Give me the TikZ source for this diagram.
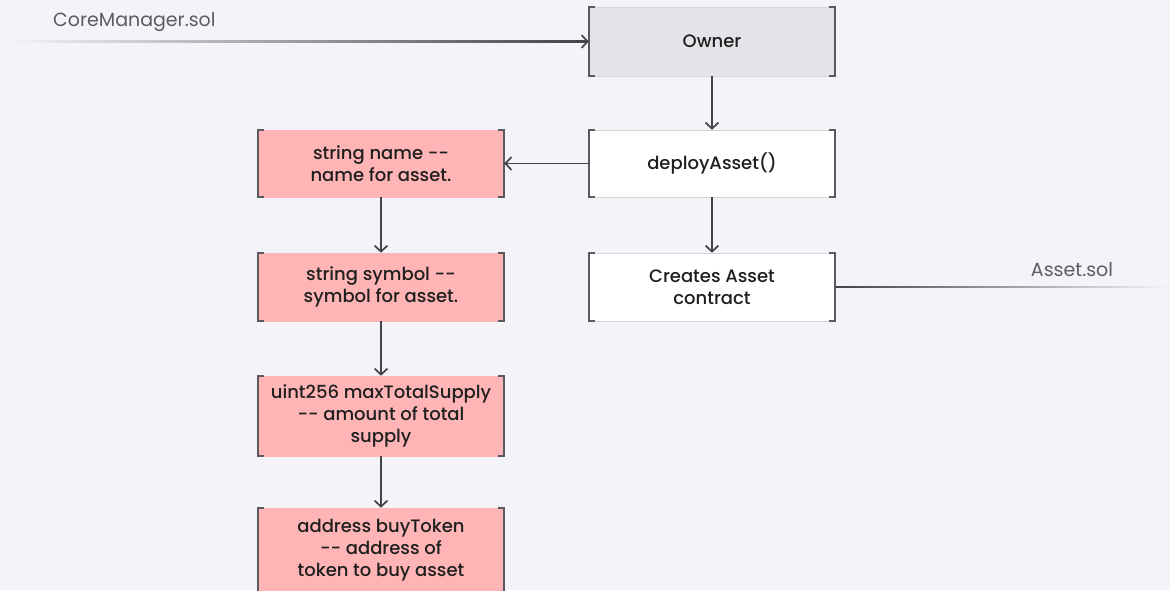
\documentclass[tikz,border=0pt]{standalone}
\usepackage{fontspec}
\setmainfont{Poppins}
\newfontfamily\medfont{Poppins Medium}
\usetikzlibrary{arrows.meta,calc}
\definecolor{bgcol}{HTML}{F4F4F8}
\definecolor{ownerfill}{HTML}{E4E4E8}
\definecolor{pinkfill}{HTML}{FFB5B5}
\definecolor{edgecol}{HTML}{5A5A5E}
\definecolor{arrowcol}{HTML}{444448}
\definecolor{labelcol}{HTML}{5C5C60}
\definecolor{thincol}{HTML}{D6D6DA}
\tikzset{
  box/.style={draw=thincol, line width=0.6pt, minimum width=246pt, minimum height=68pt,
    align=center, inner sep=0pt, text=black!88,
    font=\medfont\fontsize{18}{22}\selectfont},
  ownerbox/.style={box, fill=ownerfill},
  plainbox/.style={box, fill=white},
  fieldbox/.style={box, fill=pinkfill, draw=pinkfill},
  bracketline/.style={draw=edgecol, line width=1.8pt},
  link/.style={draw=arrowcol, line width=1.7pt, -{Straight Barb[length=6pt,width=13pt,line width=1.7pt]}},
  filelabel/.style={text=labelcol, font=\fontsize{19}{22}\selectfont, inner sep=0pt},
}
% square brackets on the left and right sides of a box
\newcommand{\brackets}[1]{%
  \draw[bracketline] ([xshift=6pt]#1.north west) -- (#1.north west) -- (#1.south west) -- ([xshift=6pt]#1.south west);
  \draw[bracketline] ([xshift=-6pt]#1.north east) -- (#1.north east) -- (#1.south east) -- ([xshift=-6pt]#1.south east);
}
\begin{document}
\begin{tikzpicture}[x=1pt,y=-1pt]
  \useasboundingbox (0,0) rectangle (1170,590);
  \fill[bgcol] (0,0) rectangle (1170,590);

  % right column: owner flow
  \node[ownerbox, minimum height=69pt] (owner) at (712,41.5) {Owner};
  \node[plainbox, minimum height=67pt] (deploy) at (712,163.5) {deployAsset()};
  \node[plainbox] (creates) at (712,287) {Creates Asset\\contract};

  % left column: constructor arguments
  \node[fieldbox, minimum height=67pt] (name) at (381,163.5) {string name --\\name for asset.};
  \node[fieldbox] (symbol) at (381,287) {string symbol --\\symbol for asset.};
  \node[fieldbox, minimum height=80pt] (supply) at (381,416) {uint256 maxTotalSupply\\-- amount of total\\supply};
  \node[fieldbox, minimum height=84pt] (buytoken) at (381,550) {address buyToken\\-- address of\\token to buy asset};

  \foreach \n in {owner,deploy,creates,name,symbol,supply,buytoken} {\brackets{\n}}

  % file labels
  \node[filelabel, anchor=west] (corelabel) at (53,22) {CoreManager.sol};
  \node[filelabel] (assetlabel) at (1072,270) {Asset.sol};
  \coordinate (corestart) at (8,41.5);
  \coordinate (assetend) at (1170,287);

  % incoming line from CoreManager.sol: a graded bar ending in an arrow tip
  \shade[left color=bgcol, right color=arrowcol]
    ($(corestart)+(0,-0.85)$) rectangle ($(owner.west)+(-2,0.85)$);
  \draw[link] ([xshift=-12pt]owner.west) -- (owner.west);
  % outgoing line to Asset.sol, fading towards the right edge
  \shade[left color=arrowcol, right color=bgcol]
    ($(creates.east)+(0,-0.85)$) rectangle ($(assetend)+(0,0.85)$);

  % connectors
  \draw[link] (owner) -- (deploy);
  \draw[link] (deploy) -- (creates);
  \draw[link] (deploy) -- (name);
  \draw[link] (name) -- (symbol);
  \draw[link] (symbol) -- (supply);
  \draw[link] (supply) -- (buytoken);
\end{tikzpicture}
\end{document}
